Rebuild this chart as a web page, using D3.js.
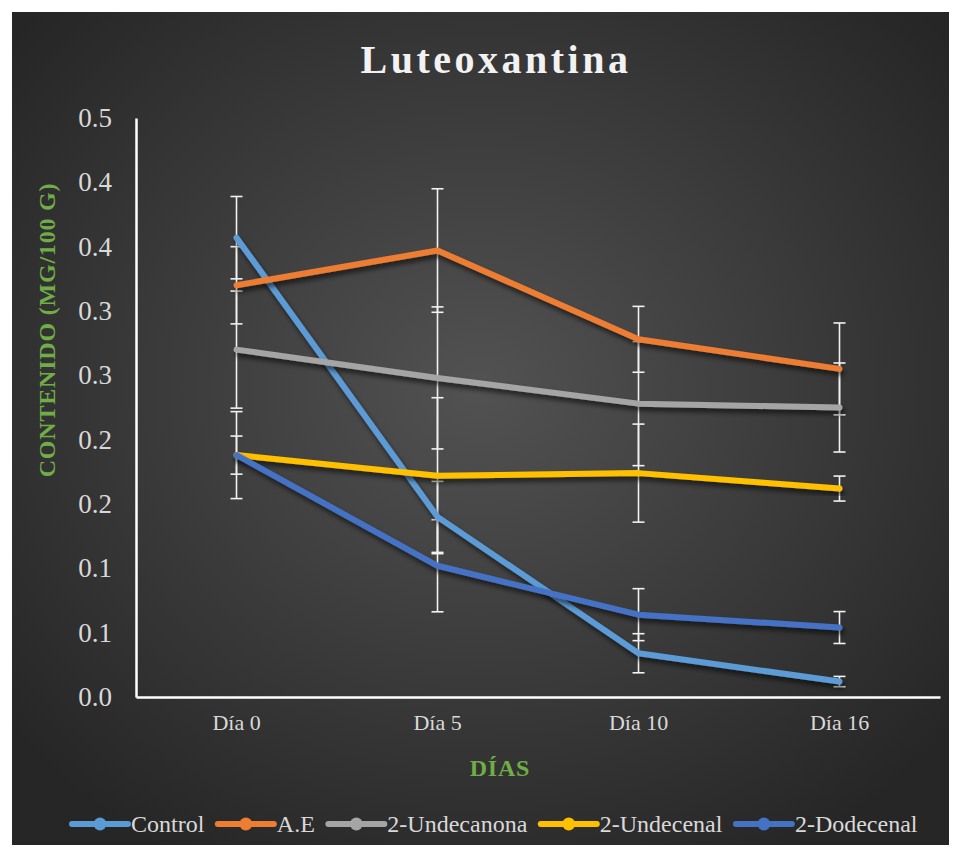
<!DOCTYPE html>
<html lang="es">
<head>
<meta charset="UTF-8">
<title>Luteoxantina</title>
<script src="https://d3js.org/d3.v7.min.js"></script>
<style>
  body { margin: 0; background: #fff; }
  svg text { font-family: "Liberation Serif", "Times New Roman", serif !important; }
</style>
</head>
<body>
<div id="chart"></div>
<script>
// data
const days = ["Día 0", "Día 5", "Día 10", "Día 16"];
const seriesNames = ["Control", "A.E", "2-Undecanona", "2-Undecenal", "2-Dodecenal"];
const seriesColors = ["#5B9BD5", "#ED7D31", "#A5A5A5", "#FFC000", "#4472C4"];

const control = [0.357, 0.140, 0.034, 0.012];
const ae = [0.320, 0.347, 0.278, 0.255];
const undecanona = [0.270, 0.248, 0.228, 0.225];
const undecenal = [0.188, 0.172, 0.174, 0.162];
const dodecenal = [0.188, 0.102, 0.064, 0.054];

const errControl = [0.032, 0.0276, 0.0152, 0.004];
const errAE = [0.030, 0.048, 0.0256, 0.0357];
const errUndecanona = [0.0455, 0.0552, 0.0482, 0.0346];
const errUndecenal = [0.0148, 0.0606, 0.0381, 0.0097];
const errDodecenal = [0.0338, 0.0358, 0.0202, 0.0124];

const yTicks = [0, 0.05, 0.1, 0.15, 0.2, 0.25, 0.3, 0.35, 0.4, 0.45];
const yTickLabels = ["0.0", "0.1", "0.1", "0.2", "0.2", "0.3", "0.3", "0.4", "0.4", "0.5"];

const values = [control, ae, undecanona, undecenal, dodecenal];
const errors = [errControl, errAE, errUndecanona, errUndecenal, errDodecenal];
const series = seriesNames.map((name, i) => ({
    name: name,
    color: seriesColors[i],
    points: days.map((d, j) => ({ day: d, v: values[i][j], e: errors[i][j] }))
}));

const width = 958, height = 855;
const plot = { left: 136, right: 940, top: 118, bottom: 697 };

const svg = d3.select("#chart").append("svg")
    .attr("width", width)
    .attr("height", height);

const defs = svg.append("defs");
const grad = defs.append("radialGradient")
    .attr("id", "bg")
    .attr("cx", "50%").attr("cy", "45%").attr("r", "65%");
grad.append("stop").attr("offset", "0%").attr("stop-color", "#525252");
grad.append("stop").attr("offset", "100%").attr("stop-color", "#262626");

const shadow = defs.append("filter")
    .attr("id", "shadow")
    .attr("x", "-10%").attr("y", "-10%").attr("width", "120%").attr("height", "130%");
shadow.append("feDropShadow")
    .attr("dx", 2).attr("dy", 4)
    .attr("stdDeviation", 2.5)
    .attr("flood-color", "#000")
    .attr("flood-opacity", 0.6);

// background
svg.append("rect")
    .attr("x", 12).attr("y", 12)
    .attr("width", 937).attr("height", 833)
    .attr("fill", "url(#bg)");

// scales
const x = d3.scaleBand()
    .domain(days)
    .range([plot.left, plot.right]);
const xc = d => x(d) + x.bandwidth() / 2;

const y = d3.scaleLinear()
    .domain([0, 0.45])
    .range([plot.bottom, plot.top]);

// title
svg.append("text")
    .attr("x", 496)
    .attr("y", 73)
    .attr("text-anchor", "middle")
    .attr("fill", "#f2f2f2")
    .style("font-size", "40px")
    .style("font-weight", "bold")
    .style("letter-spacing", "3.5px")
    .text("Luteoxantina");

// y axis
const yAxis = svg.append("g")
    .attr("transform", "translate(" + plot.left + ",0)")
    .call(d3.axisLeft(y)
        .tickValues(yTicks)
        .tickFormat((d, i) => yTickLabels[i])
        .tickSize(0)
        .tickPadding(24));
yAxis.select(".domain").attr("stroke", "#fff").attr("stroke-width", 2.5);
yAxis.selectAll("text")
    .attr("fill", "#d9d9d9")
    .style("font-size", "27px");

// x axis
const xAxis = svg.append("g")
    .attr("transform", "translate(0," + plot.bottom + ")")
    .call(d3.axisBottom(x).tickSize(0).tickPadding(17));
xAxis.select(".domain").attr("stroke", "#fff").attr("stroke-width", 2.5);
xAxis.selectAll("text")
    .attr("fill", "#d9d9d9")
    .style("font-size", "22px");

// axis titles
svg.append("text")
    .attr("transform", "translate(55,330) rotate(-90)")
    .attr("text-anchor", "middle")
    .attr("fill", "#70AD47")
    .style("font-size", "24px")
    .style("font-weight", "bold")
    .style("letter-spacing", "0.8px")
    .text("CONTENIDO (MG/100 G)");

svg.append("text")
    .attr("x", 500)
    .attr("y", 776)
    .attr("text-anchor", "middle")
    .attr("fill", "#70AD47")
    .style("font-size", "24px")
    .style("font-weight", "bold")
    .style("letter-spacing", "0.8px")
    .text("DÍAS");

// error bars (under the lines)
const errG = svg.append("g")
    .attr("stroke", "#f2f2f2")
    .attr("stroke-width", 1.6)
    .attr("fill", "none");
series.forEach(s => {
    s.points.forEach(p => {
        const cx = xc(p.day);
        const y1 = y(p.v + p.e), y2 = y(p.v - p.e);
        errG.append("line").attr("x1", cx).attr("x2", cx).attr("y1", y1).attr("y2", y2);
        errG.append("line").attr("x1", cx - 6).attr("x2", cx + 6).attr("y1", y1).attr("y2", y1);
        errG.append("line").attr("x1", cx - 6).attr("x2", cx + 6).attr("y1", y2).attr("y2", y2);
    });
});

// lines
const line = d3.line()
    .x(d => xc(d.day))
    .y(d => y(d.v));

svg.append("g")
    .selectAll("path")
    .data(series)
    .enter()
    .append("path")
    .attr("d", d => line(d.points))
    .attr("fill", "none")
    .attr("stroke", d => d.color)
    .attr("stroke-width", 6)
    .attr("stroke-linejoin", "round")
    .attr("stroke-linecap", "round")
    .attr("filter", "url(#shadow)");

// legend
const legend = svg.append("g").attr("transform", "translate(72,824)");
let lx = 0;
series.forEach(s => {
    const g = legend.append("g").attr("transform", "translate(" + lx + ",0)");
    g.append("line")
        .attr("x1", 0).attr("x2", 56)
        .attr("stroke", s.color)
        .attr("stroke-width", 6)
        .attr("stroke-linecap", "round");
    g.append("circle")
        .attr("cx", 28).attr("r", 6.5)
        .attr("fill", s.color);
    const t = g.append("text")
        .attr("x", 59)
        .attr("y", 8)
        .attr("fill", "#d9d9d9")
        .style("font-size", "24px")
        .text(s.name);
    lx += 59 + t.node().getComputedTextLength() + 13.5;
});
</script>
</body>
</html>
